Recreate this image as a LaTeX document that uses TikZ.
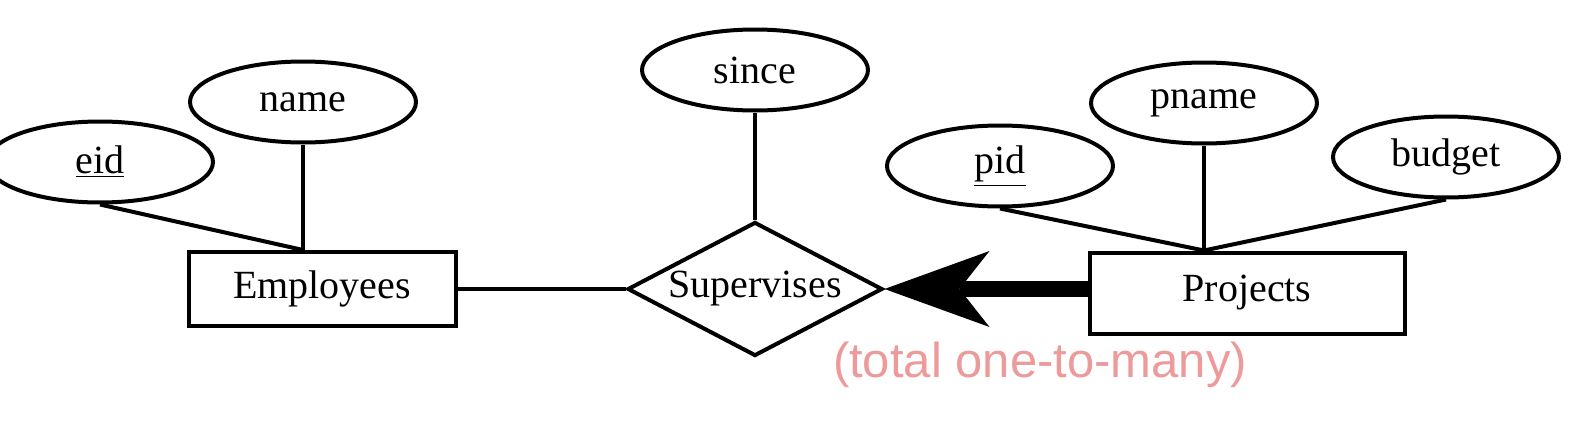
\documentclass[tikz,border=0pt]{standalone}
\usepackage{fontspec}
\setmainfont{Liberation Serif}
\newfontfamily\notefont{Liberation Sans}
\usepackage{tikz}
\usetikzlibrary{arrows.meta,shapes.geometric,positioning}
\definecolor{notepink}{RGB}{236,154,154}

\begin{document}
\begin{tikzpicture}[
x=0.5pt, y=-0.5pt,
font=\fontsize{20}{24}\selectfont,
line width=2pt,
attribute/.style={draw,ellipse,inner sep=0pt,minimum width=113pt,minimum height=40.5pt},
entity/.style={draw,rectangle,inner sep=0pt},
relation/.style={draw,diamond,aspect=1.9,inner sep=0pt,minimum width=127.5pt,minimum height=67pt},
total/.style={line width=8pt,-{Stealth[length=52.5pt,width=38pt,inset=15pt,line width=0pt]}}
]
    \useasboundingbox (0,0) rectangle (1587,428);

    % Employees and its attributes
    \node[entity, minimum width=133.5pt, minimum height=37pt] (emp) at (322,289) {Employees};
    \node[attribute] (eid) at (100,162) {\underline{eid}};
    \node[attribute] (name) at (303,102) {name};

    \draw (name.south) -- (name.south |- emp.north) coordinate (empTop);
    \draw (eid.south) -- (empTop);

    % relationship
    \node[relation] (sup) at (755,289) {Supervises};
    \node[attribute] (since) at (755,70) {since};

    \draw (since.south) -- (sup.north);
    \draw (emp.east) -- (sup.west);

    % Projects and its attributes
    \node[entity, minimum width=157.5pt, minimum height=40.5pt] (proj) at (1247,293) {Projects};
    \node[attribute] (pid) at (1000,166) {\underline{pid}};
    \node[attribute] (pname) at (1204,103) {pname};
    \node[attribute] (budget) at (1446,157) {budget};

    \draw (pname.south) -- (pname.south |- proj.north) coordinate (projTop);
    \draw (pid.south) -- (projTop);
    \draw (budget.south) -- (projTop);

    % total participation, one-to-many
    \draw[total] (sup.east -| proj.west) -- (sup.east);
    \node[font=\notefont\fontsize{24.5}{28}\selectfont, text=notepink] (note) at (1040,365) {(total one-to-many)};
\end{tikzpicture}
\end{document}
